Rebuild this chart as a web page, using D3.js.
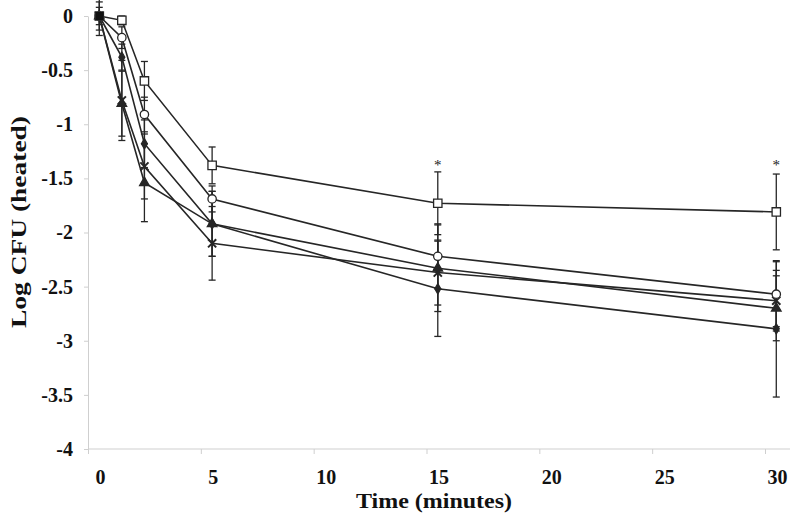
<!DOCTYPE html>
<html><head><meta charset="utf-8">
<script src="https://cdn.jsdelivr.net/npm/d3@7"></script>
<style>body{margin:0;background:#fff}svg{display:block}</style>
</head><body>
<svg id="c" width="800" height="523"></svg>
<script>
// Time points as plotted (minutes)
const times = [0.5, 1.5, 2.5, 5.5, 15.5, 30.5];
const seriesNames = ["square", "circle", "diamond", "triangle", "cross"];
const squareVals   = [0, -0.04, -0.60, -1.38, -1.73, -1.81];
const squareErr    = [0.02, 0.04, 0.18, 0.17, 0.29, 0.35];
const circleVals   = [0, -0.20, -0.91, -1.69, -2.22, -2.57];
const circleErr    = [0.03, 0.10, 0.16, 0.12, 0.30, 0.30];
const diamondVals  = [0, -0.38, -1.18, -1.92, -2.52, -2.89];
const diamondErr   = [0.08, 0.12, 0.22, 0.30, 0.44, 0.63];
const triangleVals = [0, -0.81, -1.54, -1.92, -2.33, -2.70];
const triangleErr  = [0.13, 0.30, 0.36, 0.30, 0.40, 0.30];
const crossVals    = [0, -0.78, -1.39, -2.10, -2.37, -2.63];
const crossErr     = [0.18, 0.37, 0.30, 0.34, 0.30, 0.28];
const starTimes = [15.5, 30.5];
const starVals  = [-1.35, -1.35];
const xTicks = [0, 5, 10, 15, 20, 25, 30];
const yTicks = [0, -0.5, -1, -1.5, -2, -2.5, -3, -3.5, -4];
const xTitle = "Time (minutes)";
const yTitle = "Log CFU (heated)";

const allVals = [squareVals, circleVals, diamondVals, triangleVals, crossVals];
const allErr = [squareErr, circleErr, diamondErr, triangleErr, crossErr];

const svg = d3.select("#c");
const x = d3.scaleLinear().domain([0, 30]).range([88, 765]);
const y = d3.scaleLinear().domain([-4, 0]).range([449, 16]);
const font = "'Liberation Serif','Times New Roman',serif";
const ink = "#262626";

// axes
const xAxis = svg.append("g").attr("transform", `translate(0,${y(-4)})`)
  .call(d3.axisBottom(x).tickValues(xTicks).tickSize(5).tickSizeOuter(0).tickFormat(d3.format("d")));
xAxis.select(".domain").attr("stroke", "#cfcfcf").attr("d", `M${x(0)},0H790`);
xAxis.selectAll(".tick line").attr("stroke", "#cfcfcf");
xAxis.selectAll(".tick text").attr("font-family", font).attr("font-weight", "bold")
  .attr("font-size", 20).attr("fill", "#111").attr("dx", 12).attr("y", 21);

const yAxis = svg.append("g").attr("transform", `translate(${x(0)},0)`)
  .call(d3.axisLeft(y).tickValues(yTicks).tickSize(4).tickSizeOuter(0).tickFormat(d => String(d)));
yAxis.select(".domain").attr("stroke", "#cfcfcf");
yAxis.selectAll(".tick line").attr("stroke", "#cfcfcf");
yAxis.selectAll(".tick text").attr("font-family", font).attr("font-weight", "bold")
  .attr("font-size", 20).attr("fill", "#111").attr("x", -15);

// titles
svg.append("text").attr("x", 434).attr("y", 508).attr("text-anchor", "middle")
  .attr("font-family", font).attr("font-weight", "bold").attr("font-size", 22).attr("fill", "#111")
  .attr("textLength", 156).attr("lengthAdjust", "spacingAndGlyphs").text(xTitle);
svg.append("text").attr("transform", `translate(26,222) rotate(-90)`).attr("text-anchor", "middle")
  .attr("font-family", font).attr("font-weight", "bold").attr("font-size", 22).attr("fill", "#111")
  .attr("textLength", 212).attr("lengthAdjust", "spacingAndGlyphs").text(yTitle);

// error bars
const cap = 3.5;
allVals.forEach((vals, si) => {
  const g = svg.append("g").attr("stroke", ink).attr("stroke-width", 1.3);
  vals.forEach((v, i) => {
    const e = allErr[si][i];
    const px = x(times[i]);
    g.append("line").attr("x1", px).attr("x2", px).attr("y1", y(v + e)).attr("y2", y(v - e));
    g.append("line").attr("x1", px - cap).attr("x2", px + cap).attr("y1", y(v + e)).attr("y2", y(v + e));
    g.append("line").attr("x1", px - cap).attr("x2", px + cap).attr("y1", y(v - e)).attr("y2", y(v - e));
  });
});

// lines
const line = d3.line().x((d, i) => x(times[i])).y(d => y(d));
allVals.forEach(vals => {
  svg.append("path").attr("d", line(vals)).attr("fill", "none").attr("stroke", ink).attr("stroke-width", 1.6);
});

// markers
const symDefs = {
  square:   {type: d3.symbolSquare,   size: 70, fill: "#fff"},
  circle:   {type: d3.symbolCircle,   size: 55, fill: "#fff"},
  diamond:  {type: d3.symbolDiamond,  size: 30, fill: ink},
  triangle: {type: d3.symbolTriangle, size: 40, fill: ink},
  cross:    {type: d3.symbolTimes,    size: 45, fill: "none"}
};
[4, 3, 2, 1, 0].forEach(si => {
  const def = symDefs[seriesNames[si]];
  svg.append("g").selectAll("path").data(allVals[si]).join("path")
    .attr("transform", (d, i) => `translate(${x(times[i])},${y(d)})`)
    .attr("d", d3.symbol().type(def.type).size(def.size))
    .attr("fill", def.fill).attr("stroke", ink).attr("stroke-width", si === 4 ? 2 : 1.3);
});
// filled start marker (all series overlap at t = 0)
svg.append("rect").attr("x", x(times[0]) - 4).attr("y", y(0) - 4).attr("width", 8).attr("height", 8).attr("fill", "#111");

// significance stars
svg.append("g").selectAll("text").data(starTimes).join("text")
  .attr("x", d => x(d)).attr("y", (d, i) => y(starVals[i]) + 8)
  .attr("text-anchor", "middle").attr("font-family", font).attr("font-size", 15).attr("fill", "#222").text("*");
</script>
</body></html>
